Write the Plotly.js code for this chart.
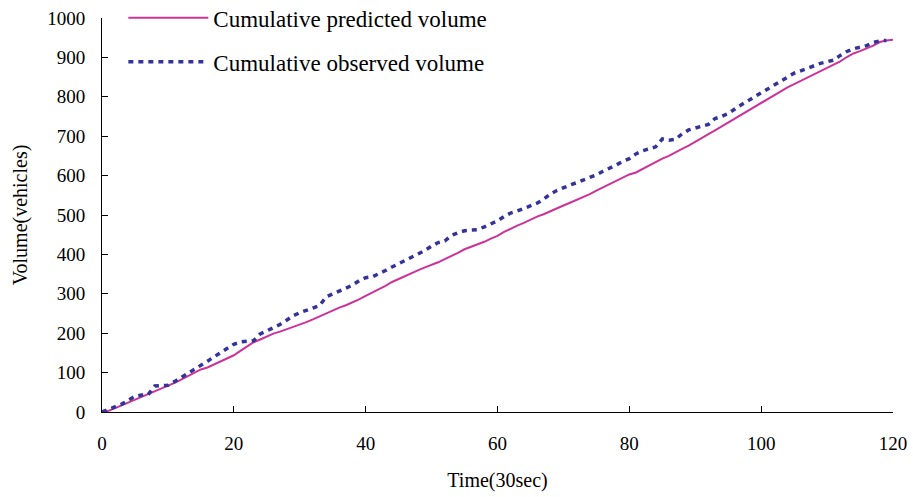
<!DOCTYPE html>
<html>
<head>
<meta charset="utf-8">
<script src="https://cdn.plot.ly/plotly-3.0.1.min.js"></script>
<style>html,body{margin:0;padding:0;background:#fff;}#chart{width:913px;height:497px;}</style>
</head>
<body>
<div id="chart"></div>
<script>
const timePred = Array.from({length: 121}, (_, i) => i);
const timeObs = Array.from({length: 120}, (_, i) => i);

const predicted = [
  0, 3, 10, 17, 24, 30, 37, 44, 52, 59,
  67, 74, 82, 91, 100, 108, 113, 121, 129, 136,
  144, 155, 166, 177, 184, 192, 199, 204, 210, 215,
  222, 228, 235, 243, 251, 259, 265, 271, 278, 286,
  295, 303, 310, 320, 330, 338, 345, 352, 360, 367,
  373, 380, 388, 395, 404, 413, 419, 425, 432, 440,
  447, 457, 466, 473, 480, 489, 496, 502, 510, 517,
  524, 531, 538, 545, 553, 562, 570, 578, 587, 596,
  603, 608, 617, 626, 635, 643, 650, 660, 668, 676,
  685, 696, 705, 715, 725, 734, 745, 755, 765, 775,
  785, 796, 806, 815, 824, 832, 840, 848, 857, 866,
  874, 881, 890, 901, 910, 916, 922, 930, 939, 943,
  945
];

const observed = [
  0, 6, 13, 20, 30, 40, 43, 44, 66, 66,
  68, 77, 87, 97, 108, 119, 129, 140, 150, 161,
  172, 178, 180, 181, 198, 206, 212, 222, 233, 244,
  252, 258, 264, 270, 292, 300, 307, 314, 322, 333,
  341, 343, 350, 359, 368, 376, 384, 392, 400, 410,
  421, 430, 434, 448, 455, 460, 462, 463, 470, 478,
  485, 496, 505, 510, 516, 522, 530, 540, 553, 562,
  570, 576, 582, 589, 594, 602, 611, 618, 627, 636,
  643, 655, 663, 668, 673, 693, 690, 692, 706, 716,
  721, 725, 730, 745, 750, 758, 770, 780, 790, 800,
  812, 822, 832, 842, 852, 860, 866, 873, 880, 885,
  889, 893, 905, 915, 922, 926, 930, 938, 942, 943
];

const xTicks = [0, 20, 40, 60, 80, 100, 120];
const yTicks = [0, 100, 200, 300, 400, 500, 600, 700, 800, 900, 1000];

const FONT = "Liberation Serif, Times New Roman, serif";

const traces = [
  {
    x: timePred, y: predicted, type: 'scatter', mode: 'lines',
    name: 'Cumulative predicted volume', legendgroup: 'a',
    line: {color: '#cc3399', width: 2}
  },
  {
    x: timeObs, y: observed, type: 'scatter', mode: 'lines',
    name: 'Cumulative observed volume', legendgroup: 'b',
    line: {color: '#333399', width: 3.5, dash: '5px,5px'}
  }
];

const layout = {
  width: 913, height: 497,
  margin: {l: 102, r: 20, t: 18, b: 85, autoexpand: false},
  paper_bgcolor: '#fff', plot_bgcolor: '#fff',
  font: {family: FONT, size: 18, color: '#000'},
  showlegend: true,
  legend: {
    x: 0.027, y: 1.055, xanchor: 'left', yanchor: 'top',
    bgcolor: 'rgba(0,0,0,0)', font: {family: FONT, size: 23, color: '#000'},
    itemwidth: 80, tracegroupgap: 11, traceorder: 'grouped'
  },
  xaxis: {
    range: [0, 120], tickvals: xTicks, ticktext: xTicks.map(String),
    showgrid: false, zeroline: false, showline: true, linecolor: '#000', linewidth: 1,
    ticks: 'inside', ticklen: 6, tickcolor: '#000',
    ticklabelstandoff: 14,
    tickfont: {family: FONT, size: 19},
    title: {text: 'Time(30sec)', font: {family: FONT, size: 20}, standoff: 20}
  },
  yaxis: {
    range: [0, 1000], tickvals: yTicks, ticktext: yTicks.map(String),
    showgrid: false, zeroline: false, showline: true, linecolor: '#000', linewidth: 1,
    ticks: 'inside', ticklen: 6, tickcolor: '#000',
    ticklabelstandoff: 12,
    tickfont: {family: FONT, size: 19},
    title: {text: 'Volume(vehicles)', font: {family: FONT, size: 20}, standoff: 14}
  }
};

Plotly.newPlot('chart', traces, layout, {displayModeBar: false, staticPlot: true});
</script>
</body>
</html>
